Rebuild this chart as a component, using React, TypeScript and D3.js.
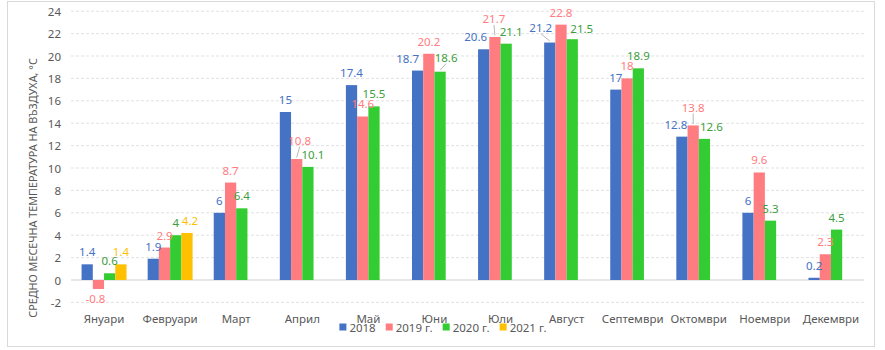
import React from "react";
import * as d3 from "d3";

const months = ["Януари", "Февруари", "Март", "Април", "Май", "Юни", "Юли", "Август", "Септември", "Октомври", "Ноември", "Декември"];
const seriesNames = ["2018", "2019 г.", "2020 г.", "2021 г."];
const s2018 = [1.4, 1.9, 6, 15, 17.4, 18.7, 20.6, 21.2, 17, 12.8, 6, 0.2];
const s2019 = [-0.8, 2.9, 8.7, 10.8, 14.6, 20.2, 21.7, 22.8, 18, 13.8, 9.6, 2.3];
const s2020 = [0.6, 4, 6.4, 10.1, 15.5, 18.6, 21.1, 21.5, 18.9, 12.6, 5.3, 4.5];
const s2021: (number | null)[] = [1.4, 4.2, null, null, null, null, null, null, null, null, null, null];
const yTicks = [-2, 0, 2, 4, 6, 8, 10, 12, 14, 16, 18, 20, 22, 24];

const barColors = ["#4472C4", "#FF7C80", "#33CC33", "#FFC000"];
const labelColors = ["#4472C4", "#FF7C80", "#3C9E3C", "#FFC000"];

// label nudges (layout only): key series-month -> [dx, dy, leader]
const nudges: Record<string, [number, number, boolean]> = {
  "1-0": [-3, 0, false],
  "3-1": [3, 0, false],
  "1-3": [3, -6, true],
  "2-3": [5, 0, false],
  "0-5": [-10, 0, false],
  "2-5": [6, -1.5, true],
  "0-6": [-8, 0, false],
  "1-6": [-1, -5.5, true],
  "2-6": [5, 0, false],
  "0-7": [-9, -2.5, true],
  "2-7": [9.5, 1.5, false],
  "0-9": [-6, 0, false],
  "1-9": [0, -5.5, true],
  "2-9": [7, 0, false],
};

const FONT = "'Noto Sans', 'DejaVu Sans', sans-serif";

function measure(text: string, size: number) {
  const c = document.createElement("canvas").getContext("2d")!;
  c.font = `${size}px 'Noto Sans'`;
  return c.measureText(text).width;
}

export default function App() {
  const W = 885, H = 350;
  const x0 = d3.scaleBand<string>().domain(months).range([71, 864]).padding(0);
  const y = d3.scaleLinear().domain([-2, 24]).range([302.4, 11.2]);
  const bw = x0.bandwidth() * 0.17;
  const all = [s2018, s2019, s2020, s2021];

  const bars: JSX.Element[] = [];
  const labels: JSX.Element[] = [];
  all.forEach((ser, si) => {
    ser.forEach((v, mi) => {
      if (v === null || v === undefined) return;
      const cx = x0(months[mi])! + x0.bandwidth() / 2;
      const bx = cx - 2 * bw + si * bw;
      const top = Math.min(y(v), y(0));
      const h = Math.abs(y(v) - y(0));
      bars.push(<rect key={`b${si}-${mi}`} x={bx} y={top} width={bw} height={h} fill={barColors[si]} />);
      const bc = bx + bw / 2;
      const n = nudges[`${si}-${mi}`] || [0, 0, false];
      const ly = v >= 0 ? y(v) - 12.5 + n[1] : y(v) + 10 + n[1];
      const lx = bc + n[0];
      labels.push(
        <text key={`t${si}-${mi}`} x={lx} y={ly} fill={labelColors[si]} fontSize={11.5} textAnchor="middle" dominantBaseline="central" fontFamily={FONT}>
          {String(v)}
        </text>
      );
      if (n[2]) {
        labels.push(<line key={`l${si}-${mi}`} x1={lx} y1={ly + 6} x2={bc} y2={y(v) - 1.5} stroke="#A6A6A6" strokeWidth={0.8} />);
      }
    });
  });

  // legend
  const legendSize = 11.5;
  const sw = 7;
  const widths = seriesNames.map((s) => measure(s, legendSize));
  const gapAfterText = 10;
  const total = widths.reduce((a, w) => a + sw + 3 + w + gapAfterText, 0) - gapAfterText;
  let lx0 = 443 - total / 2;
  const legendItems = seriesNames.map((s, i) => {
    const xStart = lx0;
    lx0 += sw + 3 + widths[i] + gapAfterText;
    return (
      <g key={s}>
        <rect x={xStart} y={327 - sw / 2} width={sw} height={sw} fill={barColors[i]} />
        <text x={xStart + sw + 3} y={327} dominantBaseline="central" fontSize={legendSize} fill="#595959" fontFamily={FONT}>{s}</text>
      </g>
    );
  });

  return (
    <svg width={W} height={H} style={{ position: "absolute", left: 0, top: 0, background: "#fff" }}>
      <rect x={7.5} y={1.5} width={867} height={345} fill="#fff" stroke="#D9D9D9" />
      {yTicks.map((t) => (
        <g key={t}>
          <line x1={71} x2={864} y1={y(t)} y2={y(t)} stroke={t === 0 ? "#D0D0D0" : "#D9D9D9"} strokeDasharray={t === 0 ? undefined : "3,2"} strokeWidth={t === 0 ? 1.2 : 0.8} />
          <text x={61} y={y(t)} textAnchor="end" dominantBaseline="central" fontSize={11.5} fill="#595959" fontFamily={FONT}>{t}</text>
        </g>
      ))}
      {bars}
      {labels}
      {months.map((m) => (
        <text key={m} x={x0(m)! + x0.bandwidth() / 2} y={318} textAnchor="middle" dominantBaseline="central" fontSize={11.5} fill="#595959" fontFamily={FONT}>{m}</text>
      ))}
      {legendItems}
      <text transform={`translate(32,188) rotate(-90)`} textAnchor="middle" dominantBaseline="central" fontSize={10.8} fill="#595959" fontFamily={FONT}>
        СРЕДНО МЕСЕЧНА ТЕМПЕРАТУРА НА ВЪЗДУХА, °C
      </text>
    </svg>
  );
}
